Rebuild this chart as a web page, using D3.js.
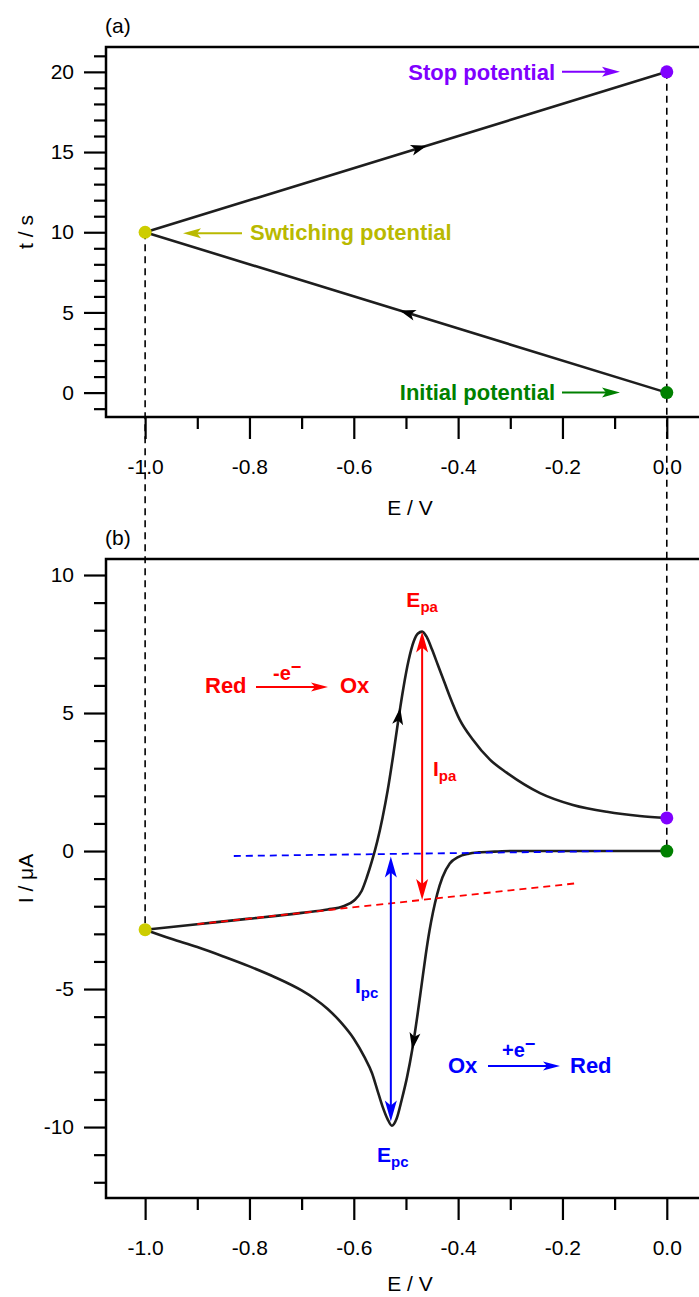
<!DOCTYPE html>
<html><head><meta charset="utf-8">
<script src="https://cdn.jsdelivr.net/npm/d3@7"></script>
<style>
body{margin:0;background:#fff}
text{font-family:"Liberation Sans",Arial,Helvetica,sans-serif}
</style>
</head><body>
<svg id="c" width="699" height="1297"></svg>
<script>
// ---------------- data ----------------
const tickE = [-1.0, -0.8, -0.6, -0.4, -0.2, 0.0];
const minorE = [-0.9, -0.7, -0.5, -0.3, -0.1];
const tickT = [0, 5, 10, 15, 20];
const minorT = [-1, 1, 2, 3, 4, 6, 7, 8, 9, 11, 12, 13, 14, 16, 17, 18, 19, 21];
const tickI = [-10, -5, 0, 5, 10];
const minorI = [-12, -11, -9, -8, -7, -6, -4, -3, -2, -1, 1, 2, 3, 4, 6, 7, 8, 9];

// (a) potential waveform
const sweepE = [0, -1, 0];
const sweepT = [0, 10, 20];

// (b) cyclic voltammogram, cathodic (forward) branch, listed by E
const cathE = [-1.0, -0.95, -0.9, -0.85, -0.8, -0.75, -0.7, -0.675, -0.65, -0.625, -0.6, -0.58, -0.565, -0.555, -0.545, -0.535, -0.527, -0.518, -0.508, -0.498, -0.488, -0.478, -0.47, -0.462, -0.455, -0.448, -0.44, -0.43, -0.416, -0.4, -0.38, -0.36, -0.33, -0.3, -0.2, -0.1, 0.0];
const cathI = [-2.85, -3.18, -3.48, -3.82, -4.18, -4.58, -5.05, -5.35, -5.72, -6.2, -6.8, -7.45, -8.05, -8.65, -9.25, -9.72, -9.95, -9.7, -9.0, -8.2, -7.2, -5.95, -4.85, -3.75, -2.9, -2.2, -1.55, -0.95, -0.45, -0.22, -0.1, -0.05, -0.02, 0.0, 0.0, 0.0, 0.0];
// anodic (reverse) branch
const anodE = [-1.0, -0.9, -0.8, -0.7, -0.65, -0.62, -0.6, -0.585, -0.575, -0.565, -0.555, -0.545, -0.535, -0.525, -0.515, -0.505, -0.495, -0.485, -0.477, -0.469, -0.46, -0.45, -0.439, -0.425, -0.416, -0.397, -0.372, -0.339, -0.307, -0.243, -0.18, -0.115, -0.052, 0.0];
const anodI = [-2.85, -2.65, -2.45, -2.24, -2.12, -2.0, -1.8, -1.45, -0.95, -0.35, 0.35, 1.2, 2.2, 3.4, 4.7, 5.9, 6.9, 7.6, 7.88, 7.95, 7.75, 7.3, 6.75, 6.05, 5.6, 4.76, 4.04, 3.31, 2.84, 2.1, 1.67, 1.42, 1.27, 1.2];

// baselines
const redBaseE = [-0.9, -0.17], redBaseI = [-2.65, -1.16];
const blueBaseE = [-0.83, -0.10], blueBaseI = [-0.18, 0.0];

// peak currents
const ipaE = -0.469, ipaI = [-1.77, 7.95];
const ipcE = -0.529, ipcI = [-0.2, -9.8];

// marked potentials
const switchE = -1.0, switchT = 10, switchI = -2.85;
const stopE = 0.0, stopT = 20, stopI = 1.2;
const initE = 0.0, initT = 0, initI = 0.0;

// ---------------- layout ----------------
const svg = d3.select("#c");
svg.append("rect").attr("width", 699).attr("height", 1297).attr("fill", "#fff");
const xL = 106, xR = 714;
const aTop = 47, aBot = 417, bTop = 559, bBot = 1198;

const x = d3.scaleLinear().domain([-1.075, 0.0905]).range([xL, xR]);
const yT = d3.scaleLinear().domain([-1.52, 21.55]).range([aBot, aTop]);
const yI = d3.scaleLinear().domain([-12.57, 10.58]).range([bBot, bTop]);

const FONT = 21;
const fmtE = d => d.toFixed(1);

function drawAxes(top, bot, yScale, ticks, minors) {
  svg.append("rect").attr("x", xL).attr("y", top).attr("width", xR - xL).attr("height", bot - top)
    .attr("fill", "none").attr("stroke", "#000").attr("stroke-width", 2.5);
  const gx = svg.append("g").attr("transform", `translate(0,${bot})`)
    .call(d3.axisBottom(x).tickValues(tickE).tickSize(22).tickSizeOuter(0).tickPadding(20).tickFormat(fmtE));
  const gxm = svg.append("g").attr("transform", `translate(0,${bot})`)
    .call(d3.axisBottom(x).tickValues(minorE).tickSize(12).tickSizeOuter(0).tickFormat(""));
  const gy = svg.append("g").attr("transform", `translate(${xL},0)`)
    .call(d3.axisLeft(yScale).tickValues(ticks).tickSize(22).tickSizeOuter(0).tickPadding(10).tickFormat(d => String(d)));
  const gym = svg.append("g").attr("transform", `translate(${xL},0)`)
    .call(d3.axisLeft(yScale).tickValues(minors).tickSize(12).tickSizeOuter(0).tickFormat(""));
  [gx, gxm, gy, gym].forEach(g => {
    g.select(".domain").remove();
    g.selectAll("line").attr("stroke", "#000").attr("stroke-width", 2.2);
    g.selectAll("text").attr("fill", "#000").style("font-size", FONT + "px")
      .style("font-family", '"Liberation Sans",Arial,sans-serif');
  });
}
drawAxes(aTop, aBot, yT, tickT, minorT);
drawAxes(bTop, bBot, yI, tickI, minorI);

// axis titles
const xMid = (xL + xR) / 2;
svg.append("text").attr("x", xMid).attr("y", 515).attr("text-anchor", "middle").style("font-size", FONT + "px").text("E / V");
svg.append("text").attr("x", xMid).attr("y", 1291).attr("text-anchor", "middle").style("font-size", FONT + "px").text("E / V");
svg.append("text").attr("transform", `translate(33,${(aTop + aBot) / 2}) rotate(-90)`).attr("text-anchor", "middle").style("font-size", FONT + "px").text("t / s");
svg.append("text").attr("transform", `translate(33,${(bTop + bBot) / 2}) rotate(-90)`).attr("text-anchor", "middle").style("font-size", FONT + "px").text("I / μA");
svg.append("text").attr("x", 105).attr("y", 33).style("font-size", FONT + "px").text("(a)");
svg.append("text").attr("x", 105).attr("y", 545).style("font-size", FONT + "px").text("(b)");

// ---------------- helpers ----------------
function head(g, px, py, ang, L, W, n, color) {
  g.append("path")
    .attr("d", `M0,0 L${-L},${-W} L${-L + n},0 L${-L},${W} Z`)
    .attr("transform", `translate(${px},${py}) rotate(${ang * 180 / Math.PI})`)
    .attr("fill", color).attr("stroke", "none");
}
function hArrow(x1, x2, yy, color, L, W) {
  const dir = Math.sign(x2 - x1);
  svg.append("line").attr("x1", x1).attr("x2", x2 - dir * L * 0.6).attr("y1", yy).attr("y2", yy)
    .attr("stroke", color).attr("stroke-width", 2);
  head(svg, x2, yy, dir > 0 ? 0 : Math.PI, L, W, 4, color);
}
function vDouble(xx, y1, y2, color) {
  const L = 21, W = 6;
  const d = Math.sign(y2 - y1);
  svg.append("line").attr("x1", xx).attr("x2", xx).attr("y1", y1 + d * L * 0.6).attr("y2", y2 - d * L * 0.6)
    .attr("stroke", color).attr("stroke-width", 2);
  head(svg, xx, y2, d > 0 ? Math.PI / 2 : -Math.PI / 2, L, W, 5, color);
  head(svg, xx, y1, d > 0 ? -Math.PI / 2 : Math.PI / 2, L, W, 5, color);
}

// ---------------- (a) waveform ----------------
const sweepLine = d3.line().x(d => x(d[0])).y(d => yT(d[1]));
const sweepPts = sweepE.map((e, i) => [e, sweepT[i]]);
svg.append("path").attr("d", sweepLine(sweepPts)).attr("fill", "none").attr("stroke", "#1e1e1e").attr("stroke-width", 2.6);
function segArrow(p0, p1, eTip) {
  const f = (eTip - p0[0]) / (p1[0] - p0[0]);
  const tTip = p0[1] + f * (p1[1] - p0[1]);
  const ang = Math.atan2(yT(p1[1]) - yT(p0[1]), x(p1[0]) - x(p0[0]));
  head(svg, x(eTip), yT(tTip), ang, 16, 5.5, 4, "#000");
}
segArrow(sweepPts[0], sweepPts[1], -0.512);
segArrow(sweepPts[1], sweepPts[2], -0.46);

// ---------------- (b) CV ----------------
const cvLine = d3.line().x(d => x(d[0])).y(d => yI(d[1])).curve(d3.curveMonotoneX);
const cath = cathE.map((e, i) => [e, cathI[i]]);
const anod = anodE.map((e, i) => [e, anodI[i]]);
const pc = svg.append("path").attr("d", cvLine(cath)).attr("fill", "none").attr("stroke", "#1e1e1e").attr("stroke-width", 2.6);
const pa = svg.append("path").attr("d", cvLine(anod)).attr("fill", "none").attr("stroke", "#1e1e1e").attr("stroke-width", 2.6);

function pathArrow(pathSel, eTip, sign) {
  const node = pathSel.node();
  const total = node.getTotalLength();
  const tx = x(eTip);
  let best = 0, bd = 1e9;
  for (let s = 0; s <= total; s += 0.5) {
    const p = node.getPointAtLength(s);
    const d = Math.abs(p.x - tx);
    if (d < bd) { bd = d; best = s; }
  }
  const p1 = node.getPointAtLength(best);
  const p0 = node.getPointAtLength(best - sign * 5);
  head(svg, p1.x, p1.y, Math.atan2(p1.y - p0.y, p1.x - p0.x), 17, 5.5, 4, "#000");
}
pathArrow(pa, -0.511, 1);
pathArrow(pc, -0.488, -1);

// baselines (dashed)
const baseLine = d3.line().x(d => x(d[0])).y(d => yI(d[1]));
svg.append("path").attr("d", baseLine(redBaseE.map((e, i) => [e, redBaseI[i]])))
  .attr("fill", "none").attr("stroke", "#ff0000").attr("stroke-width", 1.8).attr("stroke-dasharray", "7,5");
svg.append("path").attr("d", baseLine(blueBaseE.map((e, i) => [e, blueBaseI[i]])))
  .attr("fill", "none").attr("stroke", "#0000ff").attr("stroke-width", 1.8).attr("stroke-dasharray", "7,5");

// peak current arrows
vDouble(x(ipaE), yI(ipaI[0]), yI(ipaI[1]), "#ff0000");
vDouble(x(ipcE), yI(ipcI[0]), yI(ipcI[1]), "#0000ff");

// vertical dashed guide lines spanning both panels
svg.append("line").attr("x1", x(switchE)).attr("x2", x(switchE)).attr("y1", yT(switchT)).attr("y2", yI(switchI))
  .attr("stroke", "#000").attr("stroke-width", 1.6).attr("stroke-dasharray", "7,5");
svg.append("line").attr("x1", x(stopE)).attr("x2", x(stopE)).attr("y1", yT(stopT)).attr("y2", yI(initI))
  .attr("stroke", "#000").attr("stroke-width", 1.6).attr("stroke-dasharray", "7,5");

// marker points
const ptR = 6.5;
const YEL = "#cdcd00", PUR = "#8000ff", GRN = "#008000";
[[switchE, yT(switchT), YEL], [stopE, yT(stopT), PUR], [initE, yT(initT), GRN],
 [switchE, yI(switchI), YEL], [stopE, yI(stopI), PUR], [initE, yI(initI), GRN]].forEach(p => {
  svg.append("circle").attr("cx", x(p[0])).attr("cy", p[1]).attr("r", ptR).attr("fill", p[2]);
});

// ---------------- annotations ----------------
function btext(tx, ty, str, color, anchor, size) {
  return svg.append("text").attr("x", tx).attr("y", ty).attr("text-anchor", anchor || "start")
    .attr("fill", color).style("font-size", (size || 22) + "px").style("font-weight", "bold").text(str);
}
btext(555, 80, "Stop potential", PUR, "end");
hArrow(562, 620, yT(stopT), PUR, 18, 5);
btext(555, 400, "Initial potential", GRN, "end");
hArrow(562, 620, yT(initT), GRN, 18, 5);
const YT = "#b9b900";
btext(250, 240, "Swtiching potential", YT, "start");
hArrow(242, 183, yT(switchT) + 1, YT, 18, 5);

btext(205, 693, "Red", "#ff0000");
btext(340, 693, "Ox", "#ff0000");
hArrow(256, 328, 687, "#ff0000", 17, 4.5);
const em = btext(273, 680, "-e", "#ff0000", "start", 20);
em.append("tspan").attr("dy", -7).style("font-size", "18px").text("−");

btext(448, 1073, "Ox", "#0000ff");
btext(570, 1073, "Red", "#0000ff");
hArrow(488, 560, 1066, "#0000ff", 17, 4.5);
const ep = btext(502, 1057, "+e", "#0000ff", "start", 20);
ep.append("tspan").attr("dy", -7).style("font-size", "18px").text("−");

function subLabel(tx, ty, main, sub, color, size, anchor) {
  const t = btext(tx, ty, main, color, anchor || "start", size || 21);
  t.append("tspan").attr("dy", 5).style("font-size", "15px").text(sub);
  return t;
}
subLabel(x(ipaE), 607, "E", "pa", "#ff0000", 21, "middle");
subLabel(433, 776, "I", "pa", "#ff0000", 21);
subLabel(355, 993, "I", "pc", "#0000ff", 21);
subLabel(x(ipcE) + 2, 1162, "E", "pc", "#0000ff", 21, "middle");
</script>
</body></html>
